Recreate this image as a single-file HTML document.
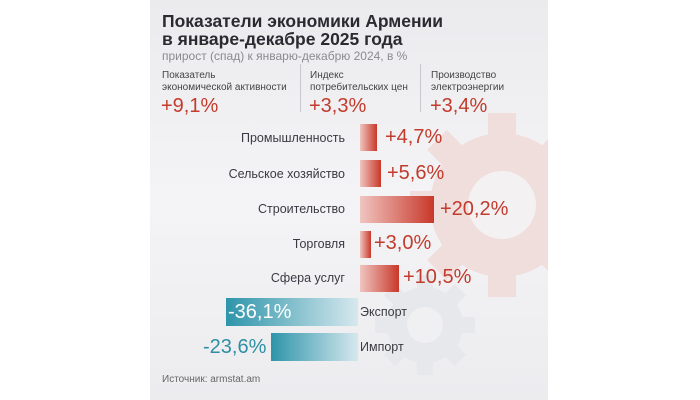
<!DOCTYPE html>
<html><head><meta charset="utf-8"><style>
body{margin:0;width:700px;height:400px;background:#fff;position:relative;overflow:hidden;font-family:"Liberation Sans",sans-serif}
.p{position:absolute;left:150px;top:0;width:398px;height:400px;background:linear-gradient(180deg,#ebebee,#f4f4f6 50%,#ececef);overflow:hidden}
.a{position:absolute;white-space:nowrap}
.t{left:12px;font-size:17.5px;font-weight:bold;color:#2a2a30}
.lab{font-size:10px;color:#444;line-height:11.5px}
.val{font-size:20px;color:#c23b2c}
.rl{font-size:12.5px;color:#3a3a42;text-align:right;width:190px;left:5px}
.bar{position:absolute;left:210px;background:linear-gradient(90deg,#f0c5c0,#c8382a)}
.rv{font-size:20px;color:#c23b2c}
.bb{position:absolute;background:linear-gradient(90deg,#2e95aa,#d6e8ee)}
.div{position:absolute;top:64px;width:1px;height:48px;background:#c8c8cc}
</style></head><body>
<div class="p">
<svg class="a" style="left:0;top:0" width="398" height="400">
<g fill="#f0dedc"><circle cx="352" cy="205" r="72"/>
<g transform="translate(352,205)"><rect x="-14" y="-92" width="28" height="184"/><rect x="-14" y="-92" width="28" height="184" transform="rotate(45)"/><rect x="-14" y="-92" width="28" height="184" transform="rotate(90)"/><rect x="-14" y="-92" width="28" height="184" transform="rotate(135)"/></g></g>
<circle cx="352" cy="205" r="34" fill="#f3f1f2"/>
<g fill="#e6e8eb"><circle cx="275" cy="325" r="38"/>
<g transform="translate(275,325)"><rect x="-8" y="-50" width="16" height="100"/><rect x="-8" y="-50" width="16" height="100" transform="rotate(45)"/><rect x="-8" y="-50" width="16" height="100" transform="rotate(90)"/><rect x="-8" y="-50" width="16" height="100" transform="rotate(135)"/></g></g>
<circle cx="275" cy="325" r="18" fill="#f0f0f2"/>
</svg>
<div class="a t" style="top:11px">Показатели экономики Армении</div>
<div class="a t" style="top:29px">в январе-декабре 2025 года</div>
<div class="a" style="left:12px;top:49px;font-size:12px;color:#8a8a90">прирост (спад) к январю-декабрю 2024, в %</div>
<div class="a lab" style="left:12px;top:70px">Показатель<br>экономической активности</div>
<div class="a lab" style="left:160px;top:70px">Индекс<br>потребительских цен</div>
<div class="a lab" style="left:281px;top:70px">Производство<br>электроэнергии</div>
<div class="div" style="left:150px"></div><div class="div" style="left:270px"></div>
<div class="a val" style="left:11px;top:95px">+9,1%</div>
<div class="a val" style="left:159px;top:95px">+3,3%</div>
<div class="a val" style="left:280px;top:95px">+3,4%</div>

<div class="a rl" style="top:131px">Промышленность</div><div class="bar" style="top:124px;height:27px;width:17px"></div><div class="a rv" style="left:235px;top:126px">+4,7%</div>
<div class="a rl" style="top:167px">Сельское хозяйство</div><div class="bar" style="top:160px;height:27px;width:21px"></div><div class="a rv" style="left:237px;top:162px">+5,6%</div>
<div class="a rl" style="top:202px">Строительство</div><div class="bar" style="top:196px;height:27px;width:74px"></div><div class="a rv" style="left:290px;top:198px">+20,2%</div>
<div class="a rl" style="top:237px">Торговля</div><div class="bar" style="top:231px;height:27px;width:11px"></div><div class="a rv" style="left:224px;top:232px">+3,0%</div>
<div class="a rl" style="top:271px">Сфера услуг</div><div class="bar" style="top:265px;height:27px;width:39px"></div><div class="a rv" style="left:253px;top:266px">+10,5%</div>

<div class="bb" style="left:76px;top:298px;width:132px;height:28px"></div>
<div class="a" style="left:78px;top:301px;font-size:20px;color:#fff">-36,1%</div>
<div class="a" style="left:210px;top:305px;font-size:12.5px;color:#3a3a42">Экспорт</div>
<div class="bb" style="left:121px;top:333px;width:87px;height:28px"></div>
<div class="a" style="left:53px;top:336px;font-size:20px;color:#2e8fa3">-23,6%</div>
<div class="a" style="left:210px;top:340px;font-size:12.5px;color:#3a3a42">Импорт</div>
<div class="a" style="left:12px;top:374px;font-size:10px;color:#666">Источник: armstat.am</div>
</div>
</body></html>
